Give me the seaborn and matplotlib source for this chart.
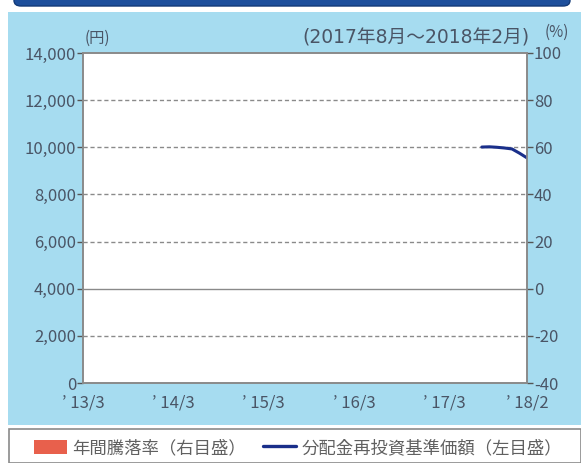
import pandas as pd
import seaborn as sns
import matplotlib.pyplot as plt
from matplotlib.patches import Rectangle, FancyBboxPatch, Patch
from matplotlib.lines import Line2D

# Data (month index from 2013/3)
months = [53, 54, 55, 56, 57, 58, 59]   # 2017/8 .. 2018/2
nav = [10010, 10020, 10000, 9970, 9930, 9750, 9550]
tick_pos = [0, 12, 24, 36, 48, 59]
tick_labels = ["\u2019 13/3", "\u2019 14/3", "\u2019 15/3", "\u2019 16/3", "\u2019 17/3", "\u2019 18/2"]
left_ticks = [0, 2000, 4000, 6000, 8000, 10000, 12000, 14000]
right_ticks = [-40, -20, 0, 20, 40, 60, 80, 100]

df = pd.DataFrame({'month': months, 'nav': nav})

sns.set_style('white')
plt.rcParams['font.family'] = ['Noto Sans CJK JP', 'DejaVu Sans']
plt.rcParams['axes.unicode_minus'] = False

W, H = 581, 463
fig = plt.figure(figsize=(W / 100, H / 100), dpi=100)
fig.patch.set_facecolor('white')

# background panel, header strip and legend box
fig.patches.append(FancyBboxPatch((14 / W, 1 - 6 / H), 556 / W, 20 / H, boxstyle='round,pad=0,rounding_size=0.012',
                                  transform=fig.transFigure, facecolor='#1d4f9c', edgecolor='#123a78', zorder=-5))
fig.patches.append(Rectangle((8 / W, 1 - 425 / H), (W - 8) / W, 413 / H, transform=fig.transFigure,
                             facecolor='#a6dcf0', edgecolor='none', zorder=-5))
fig.patches.append(Rectangle((9 / W, 0), (W - 9) / W, 34 / H, transform=fig.transFigure,
                             facecolor='white', edgecolor='#8a8a8a', linewidth=1.2, zorder=-5))

ax = fig.add_axes([83 / W, 1 - 383 / H, (527 - 83) / W, (383 - 53) / H])
ax.set_facecolor('white')

sns.lineplot(data=df, x='month', y='nav', ax=ax, color='#1a2f8a', linewidth=2.2, zorder=3)

ax.set_xlim(0, 59)
ax.set_ylim(0, 14000)
ax.set_xticks(tick_pos)
ax.set_xticklabels(tick_labels)
ax.set_yticks(left_ticks)
ax.set_yticklabels([f"{v:,}" for v in left_ticks])
ax.set_xlabel('')
ax.set_ylabel('')

for v in left_ticks[1:-1]:
    if v == 4000:
        ax.axhline(v, color='#8a8a8a', linewidth=1.0, zorder=1)
    else:
        ax.axhline(v, color='#8a8a8a', linewidth=1.0, linestyle=(0, (3, 2)), zorder=1)

ax2 = ax.twinx()
ax2.set_ylim(-40, 100)
ax2.set_yticks(right_ticks)

tc = '#4a5566'
for a in (ax, ax2):
    for s in a.spines.values():
        s.set_color('#8a8a8a')
        s.set_linewidth(1.2)
ax.tick_params(axis='y', direction='out', length=4, width=1, color='#555555', labelcolor=tc, labelsize=12, pad=1)
ax.tick_params(axis='x', direction='in', length=4, width=1, color='#8a8a8a', labelcolor=tc, labelsize=12, pad=8)
ax2.tick_params(axis='y', direction='out', length=4, width=1, color='#555555', labelcolor=tc, labelsize=12, pad=1)

fig.text(85 / W, 1 - 38 / H, '(円)', fontsize=11, color=tc, ha='left', va='center')
fig.text(529 / W, 1 - 38 / H, '(2017年8月～2018年2月)', fontsize=13.5, color=tc, ha='right', va='center',
         family=['DejaVu Sans', 'Noto Sans CJK JP'])
fig.text(557 / W, 1 - 32 / H, '(%)', fontsize=11, color=tc, ha='center', va='center')

handles = [Patch(facecolor='#e8604c', edgecolor='none'),
           Line2D([0], [0], color='#1a2f8a', linewidth=2.4)]
labels = ['年間騰落率（右目盛）', '分配金再投資基準価額（左目盛）']
fig.legend(handles, labels, loc='center left', bbox_to_anchor=(18 / W, 1 - 448 / H), ncol=2, frameon=False,
           fontsize=12.5, labelcolor='#606060', handlelength=1.9, handleheight=0.9, handletextpad=0.3,
           columnspacing=1.0)

plt.savefig('out.png', dpi=100)
